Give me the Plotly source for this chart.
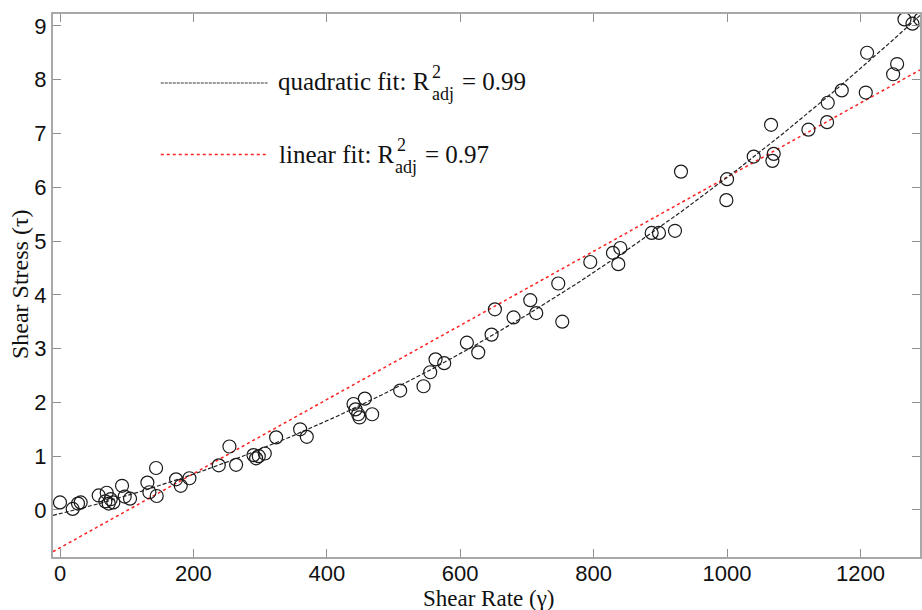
import numpy as np
import plotly.graph_objects as go

# Measured data (shear rate, shear stress)
shear_rate = [0, 19, 27, 31, 58, 68, 70, 73, 76, 80, 93, 97, 105, 131, 134, 144, 145,
              174, 181, 194, 238, 254, 264, 290, 294, 298, 307, 324, 360, 370,
              440, 443, 447, 449, 457, 468, 510, 545, 555, 563, 576, 610, 627, 647,
              652, 680, 705, 714, 747, 753, 795, 829, 837, 840, 887, 898, 922, 931,
              1000, 999, 1040, 1066, 1068, 1070, 1122, 1150, 1151, 1172, 1208, 1210,
              1249, 1255, 1266, 1278, 1290]
shear_stress = [0.14, 0.02, 0.12, 0.14, 0.27, 0.16, 0.32, 0.12, 0.20, 0.14, 0.45, 0.25,
                0.21, 0.51, 0.33, 0.78, 0.26, 0.57, 0.45, 0.59, 0.83, 1.18, 0.84, 1.02,
                0.96, 1.00, 1.05, 1.35, 1.50, 1.36, 1.97, 1.87, 1.78, 1.72, 2.07, 1.78,
                2.22, 2.30, 2.56, 2.80, 2.73, 3.11, 2.93, 3.26, 3.73, 3.58, 3.90, 3.66,
                4.21, 3.50, 4.61, 4.78, 4.57, 4.87, 5.15, 5.15, 5.19, 6.29, 6.15, 5.76,
                6.57, 7.16, 6.49, 6.62, 7.07, 7.21, 7.57, 7.80, 7.76, 8.50, 8.10, 8.29,
                9.12, 9.04, 9.12]

# Fit coefficients (c0, c1, c2)
quad_coef = [-0.07, 0.003023, 3.227e-6]
lin_coef = [-0.703, 0.006890]

x_range = [-10.5, 1289.3]
y_range = [-0.874, 9.22]
x_ticks = [0, 200, 400, 600, 800, 1000, 1200]
y_ticks = [0, 1, 2, 3, 4, 5, 6, 7, 8, 9]

xs = np.linspace(x_range[0], x_range[1], 400)
quad_y = quad_coef[0] + quad_coef[1] * xs + quad_coef[2] * xs ** 2
lin_y = lin_coef[0] + lin_coef[1] * xs

fig = go.Figure()
fig.add_trace(go.Scatter(x=xs, y=lin_y, mode="lines",
                         line=dict(color="#ff2020", width=1.5, dash="dot"),
                         showlegend=False, hoverinfo="skip"))
fig.add_trace(go.Scatter(x=xs, y=quad_y, mode="lines",
                         line=dict(color="#222222", width=1.2, dash="4px,2px"),
                         showlegend=False, hoverinfo="skip"))
fig.add_trace(go.Scatter(x=shear_rate, y=shear_stress, mode="markers",
                         marker=dict(symbol="circle-open", size=13, color="#1a1a1a",
                                     line=dict(width=1.2, color="#1a1a1a")),
                         showlegend=False))

L, T, W, H = 53, 14, 869, 543
def px(xp):
    return (xp - L) / W
def py(yp):
    return (T + H - yp) / H

serif = "Liberation Serif, Times New Roman, serif"
sans = "Liberation Sans, Arial, sans-serif"

# legend line samples
fig.add_shape(type="line", xref="paper", yref="paper", x0=px(161), x1=px(268),
              y0=py(83), y1=py(83), line=dict(color="#333333", width=1, dash="3px,1px"))
fig.add_shape(type="line", xref="paper", yref="paper", x0=px(161), x1=px(268),
              y0=py(154.5), y1=py(154.5), line=dict(color="#ff2020", width=1.5, dash="dot"))

def ann(text, x, y, size, xanchor="left", angle=0):
    fig.add_annotation(text=text, xref="paper", yref="paper", x=x, y=y,
                       xanchor=xanchor, yanchor="middle", showarrow=False,
                       textangle=angle, font=dict(family=serif, size=size, color="#111111"))

main_size, small_size = 25, 18
# row 1
ann("quadratic fit: R", px(433), py(90 - 0.335 * main_size), main_size, "right")
ann("2", px(431), py(78 - 0.335 * small_size), small_size)
ann("adj", px(431), py(100 - 0.335 * small_size), small_size)
ann("= 0.99", px(461), py(90 - 0.335 * main_size), main_size)
# row 2
ann("linear fit: R", px(398), py(163 - 0.335 * main_size), main_size, "right")
ann("2", px(396), py(151 - 0.335 * small_size), small_size)
ann("adj", px(394), py(173 - 0.335 * small_size), small_size)
ann("= 0.97", px(424), py(163 - 0.335 * main_size), main_size)

# axis titles
ann("Shear Rate (γ)", px(490), py(606 - 0.335 * 23), 23, "center")
fig.add_annotation(text="Shear Stress (τ)", xref="paper", yref="paper",
                   x=px(20), y=py(284), xanchor="center", yanchor="middle",
                   showarrow=False, textangle=-90,
                   font=dict(family=serif, size=24, color="#111111"))

axis_common = dict(showline=True, linecolor="#a8a8a8", linewidth=2, mirror="ticks",
                   ticks="inside", ticklen=8, tickwidth=1, tickcolor="#909090",
                   showgrid=False, zeroline=False,
                   tickfont=dict(family=sans, size=22, color="#111111"))
fig.update_xaxes(range=x_range, tickvals=x_ticks, ticktext=[str(v) for v in x_ticks],
                 ticklabelstandoff=-4, **axis_common)
fig.update_yaxes(range=y_range, tickvals=y_ticks, ticktext=[str(v) for v in y_ticks],
                 **axis_common)
fig.update_layout(width=922, height=610, margin=dict(l=L, r=0, t=T, b=610 - T - H),
                  plot_bgcolor="white", paper_bgcolor="white")

fig.write_html("out.html")
